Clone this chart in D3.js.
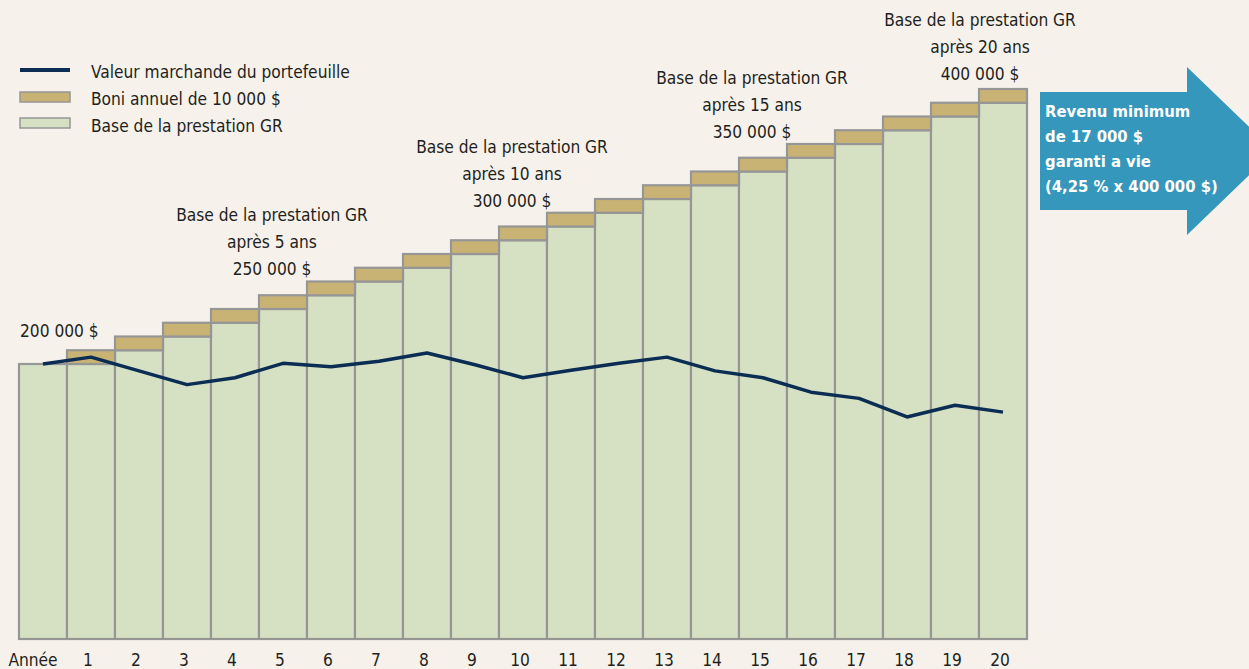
<!DOCTYPE html>
<html>
<head>
<meta charset="utf-8">
<script src="https://cdn.jsdelivr.net/npm/d3@7"></script>
<style>
  html, body { margin: 0; padding: 0; background: #F6F2EB; }
  svg { display: block; }
  text { font-family: "Liberation Sans Narrow", "DejaVu Sans Condensed", "Roboto", sans-serif; fill: #231f20; }
</style>
</head>
<body>
<script>
var w = 1249;
var h = 669;
var fs = 17.2;

// Data
var years = d3.range(0, 21);
var baseValues = [200000, 200000, 210000, 220000, 230000, 240000, 250000, 260000, 270000, 280000,
                  290000, 300000, 310000, 320000, 330000, 340000, 350000, 360000, 370000, 380000, 390000];
var bonusValues = [0, 10000, 10000, 10000, 10000, 10000, 10000, 10000, 10000, 10000,
                   10000, 10000, 10000, 10000, 10000, 10000, 10000, 10000, 10000, 10000, 10000];
var marketValues = [200000, 205000, 195000, 185000, 190000, 200500, 198000, 202000, 208000, 199500,
                    190000, 195500, 200500, 205000, 195000, 190000, 179500, 175000, 161500, 170000, 165000];
var tickLabels = ["Année", "1", "2", "3", "4", "5", "6", "7", "8", "9", "10",
                  "11", "12", "13", "14", "15", "16", "17", "18", "19", "20"];
var legendLabels = ["Valeur marchande du portefeuille", "Boni annuel de 10 000 $", "Base de la prestation GR"];
var noteYears = [5, 10, 15, 20];
var noteLines = [
  ["Base de la prestation GR", "après 5 ans", "250 000 $"],
  ["Base de la prestation GR", "après 10 ans", "300 000 $"],
  ["Base de la prestation GR", "après 15 ans", "350 000 $"],
  ["Base de la prestation GR", "après 20 ans", "400 000 $"]
];
var startLabel = "200 000 $";
var arrowLines = ["Revenu minimum", "de 17 000 $", "garanti a vie", "(4,25 % x 400 000 $)"];

var green = "#D6E1C3";
var gold = "#C9B374";
var border = "#969696";
var navy = "#0B2D54";
var blue = "#3497BB";

var svg = d3.select("body").append("svg")
  .attr("width", w)
  .attr("height", h);

var xScale = d3.scaleBand()
  .domain(years)
  .range([19, 1027])
  .padding(0);

var yScale = d3.scaleLinear()
  .domain([0, 400000])
  .range([639, 89]);

// green base bars
svg.selectAll("rect.base")
  .data(years)
  .enter()
  .append("rect")
  .attr("class", "base")
  .attr("x", function(d) { return xScale(d); })
  .attr("width", xScale.bandwidth())
  .attr("y", function(d) { return yScale(baseValues[d]); })
  .attr("height", function(d) { return yScale(0) - yScale(baseValues[d]); })
  .attr("fill", green)
  .attr("stroke", border)
  .attr("stroke-width", 2.2);

// gold bonus on top
svg.selectAll("rect.bonus")
  .data(years.filter(function(d) { return bonusValues[d] > 0; }))
  .enter()
  .append("rect")
  .attr("class", "bonus")
  .attr("x", function(d) { return xScale(d); })
  .attr("width", xScale.bandwidth())
  .attr("y", function(d) { return yScale(baseValues[d] + bonusValues[d]); })
  .attr("height", function(d) { return yScale(baseValues[d]) - yScale(baseValues[d] + bonusValues[d]); })
  .attr("fill", gold)
  .attr("stroke", border)
  .attr("stroke-width", 2.2);

// market value line
var line = d3.line()
  .x(function(d) { return xScale(d) + xScale.bandwidth() / 2; })
  .y(function(d) { return yScale(marketValues[d]); });

svg.append("path")
  .datum(years)
  .attr("d", line)
  .attr("fill", "none")
  .attr("stroke", navy)
  .attr("stroke-width", 3.5)
  .attr("stroke-linejoin", "round");

// x axis
var xAxis = d3.axisBottom(xScale)
  .tickSize(0)
  .tickFormat(function(d) { return tickLabels[d]; });

var gx = svg.append("g")
  .attr("transform", "translate(0,650)")
  .call(xAxis);
gx.select(".domain").remove();
gx.selectAll("text")
  .attr("font-size", fs)
  .attr("fill", "#231f20")
  .attr("y", 16)
  .attr("dy", 0)
  .attr("dx", function(d) { return d === 0 ? -10 : -3; })
  .style("font-family", "'Liberation Sans Narrow', 'DejaVu Sans Condensed', sans-serif");

// legend
var legend = svg.append("g").attr("transform", "translate(20,0)");
legend.append("line")
  .attr("x1", 0).attr("x2", 50)
  .attr("y1", 70).attr("y2", 70)
  .attr("stroke", navy)
  .attr("stroke-width", 4);
legend.append("rect")
  .attr("x", 0).attr("y", 92).attr("width", 50).attr("height", 10)
  .attr("fill", gold).attr("stroke", border).attr("stroke-width", 1.5);
legend.append("rect")
  .attr("x", 0).attr("y", 118).attr("width", 50).attr("height", 10)
  .attr("fill", green).attr("stroke", border).attr("stroke-width", 1.5);
legend.selectAll("text")
  .data(legendLabels)
  .enter()
  .append("text")
  .attr("x", 71)
  .attr("y", function(d, i) { return 78 + i * 27; })
  .attr("font-size", fs)
  .text(function(d) { return d; });

// start annotation
svg.append("text")
  .attr("x", 20)
  .attr("y", yScale(baseValues[0]) - 27)
  .attr("font-size", fs)
  .text(startLabel);

// milestone annotations
noteYears.forEach(function(yr, i) {
  var cx = Math.min(xScale(yr) + xScale.bandwidth() / 2 - 11, 980);
  var yLast = Math.max(yScale(baseValues[yr] + bonusValues[yr]) - 20, 80);
  var lines = noteLines[i];
  svg.append("g")
    .selectAll("text")
    .data(lines)
    .enter()
    .append("text")
    .attr("x", cx)
    .attr("y", function(d, j) { return yLast - (lines.length - 1 - j) * 27; })
    .attr("text-anchor", "middle")
    .attr("font-size", fs)
    .text(function(d) { return d; });
});

// arrow
var ax = 1040, headX = 1187, tipX = 1274, midY = 151;
svg.append("path")
  .attr("d", "M" + ax + "," + 92 + "L" + headX + "," + 92 + "L" + headX + "," + 67 +
             "L" + tipX + "," + midY + "L" + headX + "," + 235 + "L" + headX + "," + 210 +
             "L" + ax + "," + 210 + "Z")
  .attr("fill", blue);

svg.append("g")
  .selectAll("text")
  .data(arrowLines)
  .enter()
  .append("text")
  .attr("x", 1045)
  .attr("y", function(d, i) { return 117 + i * 25; })
  .attr("font-size", 16.5)
  .attr("font-weight", "bold")
  .style("fill", "#ffffff")
  .text(function(d) { return d; });
</script>
</body>
</html>
